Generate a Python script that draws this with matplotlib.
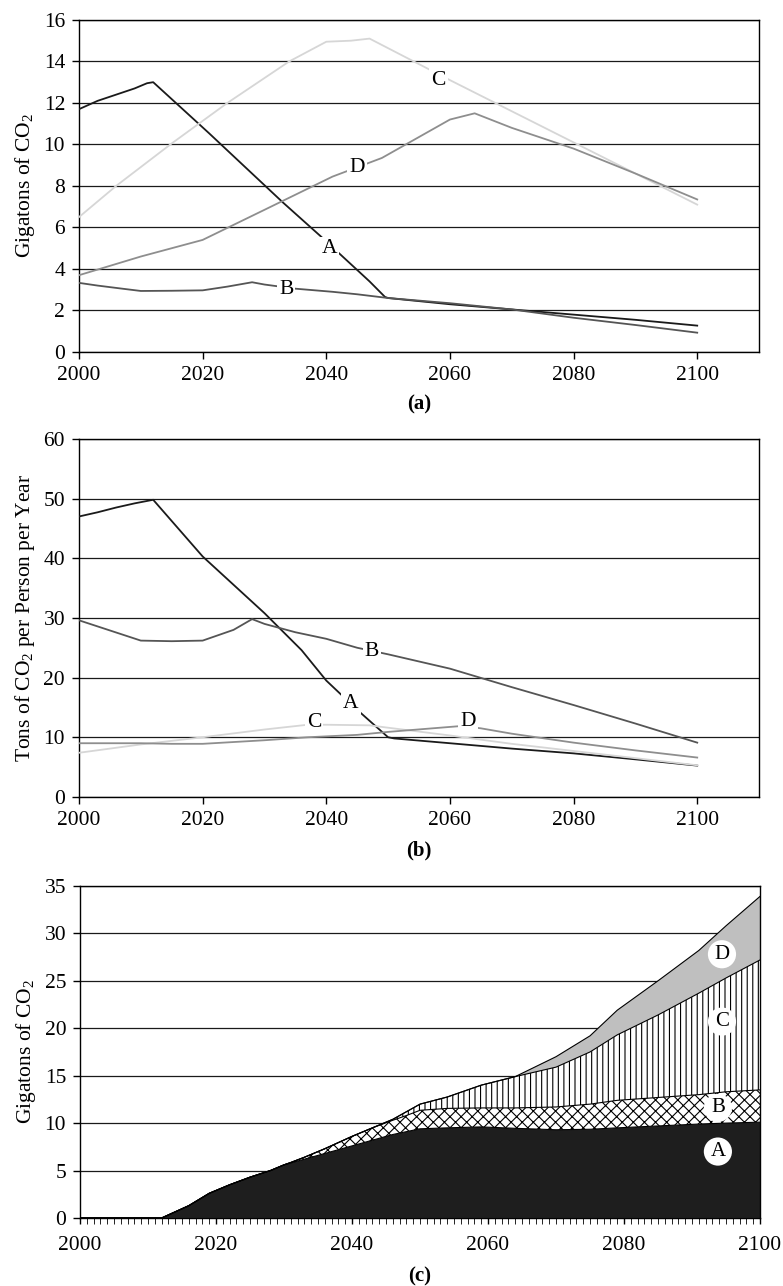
#!/usr/bin/env python3
"""Three-panel CO2 scenario chart: (a) totals, (b) per person, (c) stacked."""
import matplotlib
matplotlib.use("Agg")
import matplotlib.pyplot as plt
from matplotlib.ticker import MultipleLocator

plt.rcParams["font.family"] = ["Liberation Serif", "DejaVu Serif"]
plt.rcParams["mathtext.fontset"] = "custom"
plt.rcParams["mathtext.rm"] = "Liberation Serif"
plt.rcParams["hatch.linewidth"] = 0.8

FS = 15.5

# ---- panel (a): gigatons of CO2 ----
a_A_x = [2000, 2003, 2006, 2009, 2011, 2012, 2021, 2033, 2039, 2047, 2049.5, 2050, 2060, 2070, 2080, 2090, 2100]
a_A_y = [11.7, 12.1, 12.4, 12.7, 12.95, 13.0, 10.55, 7.2, 5.6, 3.4, 2.65, 2.6, 2.3, 2.05, 1.8, 1.55, 1.27]
a_B_x = [2000, 2003, 2007, 2010, 2015, 2020, 2024, 2028, 2030, 2035, 2041, 2045, 2050, 2060, 2070, 2080, 2090, 2100]
a_B_y = [3.33, 3.2, 3.05, 2.94, 2.95, 2.97, 3.15, 3.36, 3.25, 3.05, 2.9, 2.78, 2.6, 2.35, 2.05, 1.65, 1.3, 0.93]
a_C_x = [2000, 2006, 2015, 2024, 2034, 2040, 2044, 2047, 2060, 2070, 2080, 2090, 2100]
a_C_y = [6.5, 8.0, 10.05, 12.0, 14.0, 14.95, 15.0, 15.1, 13.1, 11.6, 10.1, 8.6, 7.1]
a_D_x = [2000, 2010, 2020, 2030, 2041, 2049, 2060, 2064, 2070, 2080, 2090, 2100]
a_D_y = [3.7, 4.6, 5.4, 6.85, 8.45, 9.35, 11.2, 11.5, 10.8, 9.8, 8.6, 7.35]

# ---- panel (b): tons of CO2 per person per year ----
b_A_x = [2000, 2003, 2006, 2009, 2012, 2020, 2030, 2036, 2040, 2045, 2050, 2051, 2060, 2070, 2080, 2090, 2100]
b_A_y = [47.0, 47.7, 48.5, 49.2, 49.8, 40.3, 30.8, 24.6, 19.5, 14.6, 10.0, 9.8, 9.0, 8.1, 7.3, 6.3, 5.25]
b_B_x = [2000, 2005, 2010, 2015, 2020, 2025, 2028, 2030, 2035, 2040, 2045, 2050, 2060, 2070, 2080, 2090, 2100]
b_B_y = [29.6, 27.9, 26.2, 26.1, 26.2, 28.0, 29.8, 29.0, 27.6, 26.5, 25.0, 23.9, 21.5, 18.4, 15.4, 12.3, 9.1]
b_C_x = [2000, 2010, 2020, 2030, 2037, 2040, 2047, 2050, 2060, 2070, 2080, 2090, 2100]
b_C_y = [7.4, 8.8, 10.0, 11.3, 12.1, 12.1, 12.0, 11.6, 10.3, 8.9, 7.7, 6.5, 5.3]
b_D_x = [2000, 2010, 2015, 2020, 2030, 2037, 2045, 2050, 2062, 2065, 2070, 2080, 2090, 2100]
b_D_y = [9.0, 9.0, 8.9, 8.9, 9.5, 10.0, 10.4, 10.9, 11.9, 11.5, 10.6, 9.1, 7.8, 6.6]

# ---- panel (c): stacked cumulative tops ----
c_years = [2000, 2012, 2016, 2019, 2022, 2025, 2028, 2030, 2031, 2033, 2036, 2040, 2043, 2046,
           2048, 2050, 2054, 2059, 2064, 2070, 2075, 2079, 2085, 2091, 2095, 2100]
c_top_A = [0, 0, 1.3, 2.6, 3.5, 4.3, 5.0, 5.6, 5.8, 6.2, 6.8, 7.6, 8.2, 8.8,
           9.1, 9.4, 9.5, 9.6, 9.45, 9.3, 9.35, 9.5, 9.7, 9.9, 10.0, 10.1]
c_top_B = [0, 0, 1.3, 2.6, 3.5, 4.3, 5.0, 5.6, 5.85, 6.4, 7.3, 8.6, 9.5, 10.3,
           10.8, 11.35, 11.55, 11.6, 11.6, 11.7, 12.0, 12.4, 12.7, 13.0, 13.3, 13.5]
c_top_C = [0, 0, 1.3, 2.6, 3.5, 4.3, 5.0, 5.6, 5.85, 6.4, 7.3, 8.6, 9.5, 10.4,
           11.2, 12.0, 12.75, 14.0, 14.9, 15.9, 17.5, 19.3, 21.4, 23.7, 25.3, 27.2]
c_top_D = [0, 0, 1.3, 2.6, 3.5, 4.3, 5.0, 5.6, 5.85, 6.4, 7.3, 8.6, 9.5, 10.4,
           11.2, 12.0, 12.75, 14.0, 14.9, 17.0, 19.2, 21.9, 25.0, 28.2, 30.8, 33.9]

LINE_COLORS = {"A": "#1a1a1a", "B": "#555555", "C": "#d6d6d6", "D": "#8e8e8e"}

a_series = {"A": (a_A_x, a_A_y), "B": (a_B_x, a_B_y), "C": (a_C_x, a_C_y), "D": (a_D_x, a_D_y)}
a_labels = {"A": (2040.5, 5.0), "B": (2033.5, 3.0), "C": (2058.2, 13.1), "D": (2045.0, 8.9)}
b_series = {"A": (b_A_x, b_A_y), "B": (b_B_x, b_B_y), "C": (b_C_x, b_C_y), "D": (b_D_x, b_D_y)}
b_labels = {"A": (2044.0, 15.7), "B": (2047.4, 24.3), "C": (2038.0, 12.4), "D": (2062.9, 12.6)}
c_labels = {"A": (2093.8, 7.0), "B": (2093.8, 11.6), "C": (2094.4, 20.7), "D": (2094.4, 27.8)}


def style_axis(ax):
    for sp in ax.spines.values():
        sp.set_linewidth(1.0)
        sp.set_color("black")
    ax.tick_params(direction="out", length=5, width=1.0, labelsize=FS, pad=5)
    ax.grid(axis="y", color="#1a1a1a", linewidth=0.9)
    ax.set_axisbelow(True)


def line_panel(ax, series, labels, ylim, ystep, ylabel):
    for name, (xs, ys) in series.items():
        ax.plot(xs, ys, color=LINE_COLORS[name], linewidth=1.3, zorder=3)
    for name, (lx, ly) in labels.items():
        ax.text(lx, ly, name, fontsize=FS, ha="center", va="center", zorder=5,
                bbox=dict(facecolor="white", edgecolor="none", pad=1.5))
    ax.set_xlim(2000, 2110)
    ax.set_xticks(range(2000, 2101, 20))
    ax.set_ylim(*ylim)
    ax.yaxis.set_major_locator(MultipleLocator(ystep))
    ax.set_ylabel(ylabel, fontsize=FS, labelpad=5)
    style_axis(ax)


fig = plt.figure(figsize=(7.83, 12.86), dpi=100)
ax_a = fig.add_axes([0.1009, 0.7263, 0.8685, 0.2582])
ax_b = fig.add_axes([0.1009, 0.3803, 0.8685, 0.2784])
ax_c = fig.add_axes([0.1022, 0.0529, 0.8685, 0.2582])

line_panel(ax_a, a_series, a_labels, (0, 16), 2, "Gigatons of CO$_2$")
line_panel(ax_b, b_series, b_labels, (0, 60), 10, "Tons of CO$_2$ per Person per Year")

# stacked areas
ax_c.fill_between(c_years, 0, c_top_A, facecolor="#1e1e1e", edgecolor="none", zorder=2)
ax_c.fill_between(c_years, c_top_A, c_top_B, facecolor="white", edgecolor="black",
                  hatch="xxx", linewidth=0, zorder=2)
ax_c.fill_between(c_years, c_top_B, c_top_C, facecolor="white", edgecolor="black",
                  hatch="|||", linewidth=0, zorder=2)
ax_c.fill_between(c_years, c_top_C, c_top_D, facecolor="#bfbfbf", edgecolor="none", zorder=2)
for tops in (c_top_A, c_top_B, c_top_C, c_top_D):
    ax_c.plot(c_years, tops, color="black", linewidth=0.8, zorder=3)
for name, (lx, ly) in c_labels.items():
    ax_c.text(lx, ly, name, fontsize=FS - 0.5, ha="center", va="center", zorder=5,
              bbox=dict(boxstyle="circle,pad=0.22", facecolor="white", edgecolor="none"))
ax_c.set_xlim(2000, 2100)
ax_c.set_xticks(range(2000, 2101, 20))
ax_c.xaxis.set_minor_locator(MultipleLocator(1))
ax_c.set_ylim(0, 35)
ax_c.yaxis.set_major_locator(MultipleLocator(5))
ax_c.set_ylabel("Gigatons of CO$_2$", fontsize=FS, labelpad=5)
style_axis(ax_c)
ax_c.tick_params(axis="x", which="both", length=4, pad=9)

for ax, ypos in ((ax_a, -0.158), (ax_b, -0.15), (ax_c, -0.176)):
    tag = {ax_a: "(a)", ax_b: "(b)", ax_c: "(c)"}[ax]
    ax.text(0.5, ypos, tag, transform=ax.transAxes,
            ha="center", va="center", fontsize=FS - 0.5, fontweight="bold")

fig.savefig("out.png", dpi=100)
